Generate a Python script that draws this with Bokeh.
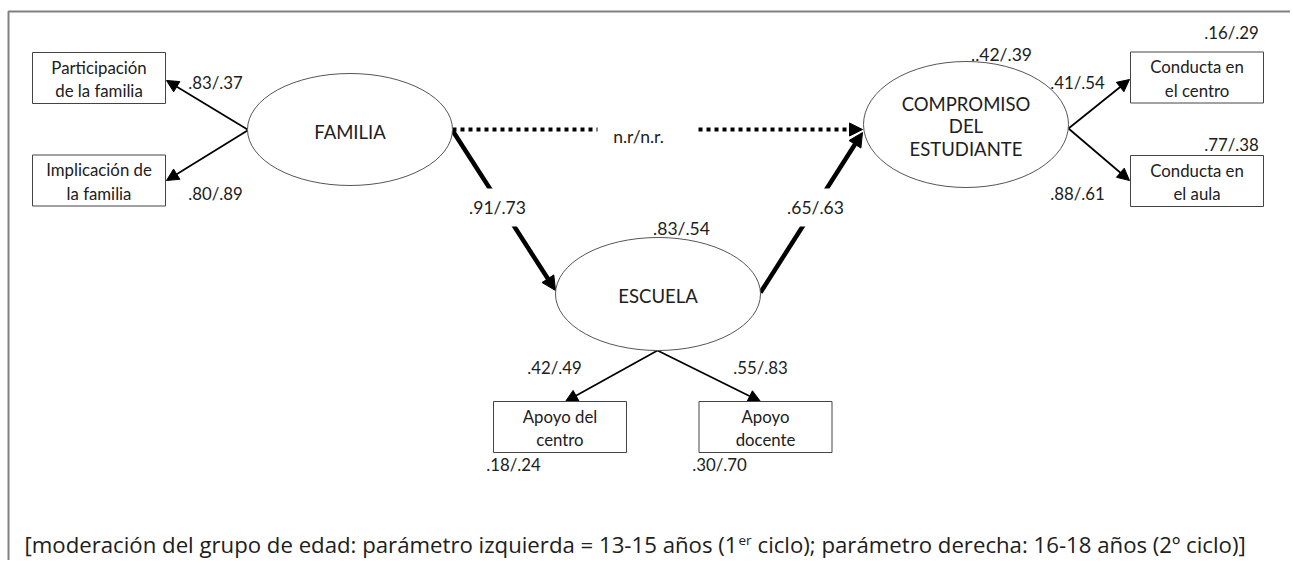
from bokeh.plotting import figure
from bokeh.models import Range1d, Arrow, NormalHead, ColumnDataSource
from bokeh.core.properties import value
from bokeh.embed import file_html
from bokeh.resources import INLINE

# ---------------- data (texts / values) ----------------
latent_names = ["FAMILIA", "ESCUELA", "COMPROMISO\nDEL\nESTUDIANTE"]
latent_r2 = ["", ".83/.54", "..42/.39"]

indicator_names = ["Participación\nde la familia", "Implicación de\nla familia",
                   "Apoyo del\ncentro", "Apoyo\ndocente",
                   "Conducta en\nel centro", "Conducta en\nel aula"]
indicator_loadings = [".83/.37", ".80/.89", ".42/.49", ".55/.83", ".41/.54", ".88/.61"]
indicator_errors = ["", "", ".18/.24", ".30/.70", ".16/.29", ".77/.38"]

structural_paths = ["FAMILIA→ESCUELA", "ESCUELA→COMPROMISO", "FAMILIA→COMPROMISO"]
structural_coefs = [".91/.73", ".65/.63", "n.r/n.r."]

note_part1 = "[moderación del grupo de edad: parámetro izquierda = 13-15 años (1"
note_sup = "er"
note_part2 = "ciclo); parámetro derecha: 16-18 años (2º ciclo)]"

# ---------------- layout (positions in page pixels) ----------------
W, H = 1290, 560
latent_pos = [(349.5, 129), (657.5, 293.5), (965.5, 124)]
latent_size = [(205, 112), (205, 113), (205, 126)]
latent_r2_pos = [(0, 0), (681, 228), (1001, 54)]

box_pos = [(98.5, 77.5), (98.5, 180), (559.5, 426.5), (765, 426.5), (1196.5, 77), (1196.5, 180.5)]
box_w, box_h = 133, 51
load_pos = [(215, 82), (215, 193), (554, 367), (760, 367), (1077, 82), (1077, 193)]
err_pos = [(0, 0), (0, 0), (513, 464), (719, 464), (1231, 32), (1231, 144)]

meas_start = [(247, 129), (247, 130), (657, 350), (657, 350), (1068, 128), (1068, 128)]
meas_end = [(166, 80), (166, 180), (565, 401), (760, 401), (1129, 79), (1129, 180)]

thick_start = [(452, 130), (760, 292)]
thick_end = [(555, 290), (862, 132)]
dot_seg = [(452, 129), (597, 129)]
dot_arrow = [(698, 129), (862, 129)]
coef_pos = [(497, 207), (815, 207), (638, 136)]
coef_gap = [(70, 38), (70, 38), (0, 0)]

FONT = value("Lato")
TXT = "#202020"

p = figure(width=W, height=H, x_range=Range1d(0, W), y_range=Range1d(H, 0),
           output_backend="svg", toolbar_location=None, min_border=0)
p.axis.visible = False
p.grid.visible = False
p.outline_line_color = None
p.background_fill_color = "white"

# frame
p.line([8, 8, W], [H, 11, 11], line_color="#808080", line_width=2)

# measurement arrows
src_meas = ColumnDataSource(dict(x0=[s[0] for s in meas_start], y0=[s[1] for s in meas_start],
                                 x1=[e[0] for e in meas_end], y1=[e[1] for e in meas_end]))
p.add_layout(Arrow(end=NormalHead(size=12, fill_color="black", line_color="black", line_width=1),
                   x_start="x0", y_start="y0", x_end="x1", y_end="y1", source=src_meas,
                   line_width=1.7, line_color="black", level="underlay"))

# thick structural arrows
src_thick = ColumnDataSource(dict(x0=[s[0] for s in thick_start], y0=[s[1] for s in thick_start],
                                  x1=[e[0] for e in thick_end], y1=[e[1] for e in thick_end]))
p.add_layout(Arrow(end=NormalHead(size=14, fill_color="black", line_color="black", line_width=1),
                   x_start="x0", y_start="y0", x_end="x1", y_end="y1", source=src_thick,
                   line_width=4.5, line_color="black", level="underlay"))

# dotted path
p.line([dot_seg[0][0], dot_seg[1][0]], [dot_seg[0][1], dot_seg[1][1]],
       line_color="black", line_width=4, line_dash="4 4")
p.add_layout(Arrow(end=NormalHead(size=13, fill_color="black", line_color="black", line_width=1),
                   x_start=dot_arrow[0][0], y_start=dot_arrow[0][1],
                   x_end=dot_arrow[1][0], y_end=dot_arrow[1][1],
                   line_width=4, line_color="black", line_dash="4 4", level="underlay"))

# white gaps behind the path coefficients
gx = [c[0] for c, g in zip(coef_pos, coef_gap) if g[0]]
gy = [c[1] for c, g in zip(coef_pos, coef_gap) if g[0]]
gw = [g[0] for g in coef_gap if g[0]]
gh = [g[1] for g in coef_gap if g[0]]
p.rect(x=gx, y=gy, width=gw, height=gh, fill_color="white", line_color=None)

# latent ellipses
p.ellipse(x=[c[0] for c in latent_pos], y=[c[1] for c in latent_pos],
          width=[s[0] for s in latent_size], height=[s[1] for s in latent_size],
          fill_color="white", line_color="#555555", line_width=1)

# indicator boxes
p.rect(x=[b[0] for b in box_pos], y=[b[1] for b in box_pos], width=box_w, height=box_h,
       fill_color="white", line_color="#444444", line_width=1)

def txt(x, y, s, size="16px", align="center", baseline="middle", lh=1.2, font=FONT):
    p.text(x=[x], y=[y], text=[s], text_font=font, text_font_size=size, text_color=TXT,
           text_align=align, text_baseline=baseline, text_line_height=lh)

for (x, y), name in zip(latent_pos, latent_names):
    txt(x, y + 2, name, "18.5px", lh=1.04)
for (x, y), r in zip(latent_r2_pos, latent_r2):
    if r:
        txt(x, y, r, "17.5px")
for (x, y), name in zip(box_pos, indicator_names):
    txt(x, y + 1, name, "16.8px", lh=1.14)
for (x, y), s in zip(load_pos, indicator_loadings):
    txt(x, y, s, "16.8px")
for (x, y), s in zip(err_pos, indicator_errors):
    if s:
        txt(x, y, s, "16.8px")
for (x, y), s in zip(coef_pos, structural_coefs):
    txt(x, y, s, "17.5px")

# note (with superscript)
NOTE_FONT = value("Open Sans")
txt(737, 544, note_part1, "22.2px", align="right", font=NOTE_FONT)
txt(738, 539, note_sup, "13.5px", align="left", font=NOTE_FONT)
txt(757, 544, note_part2, "22.2px", align="left", font=NOTE_FONT)

open("out.html", "w").write(file_html(p, INLINE))
